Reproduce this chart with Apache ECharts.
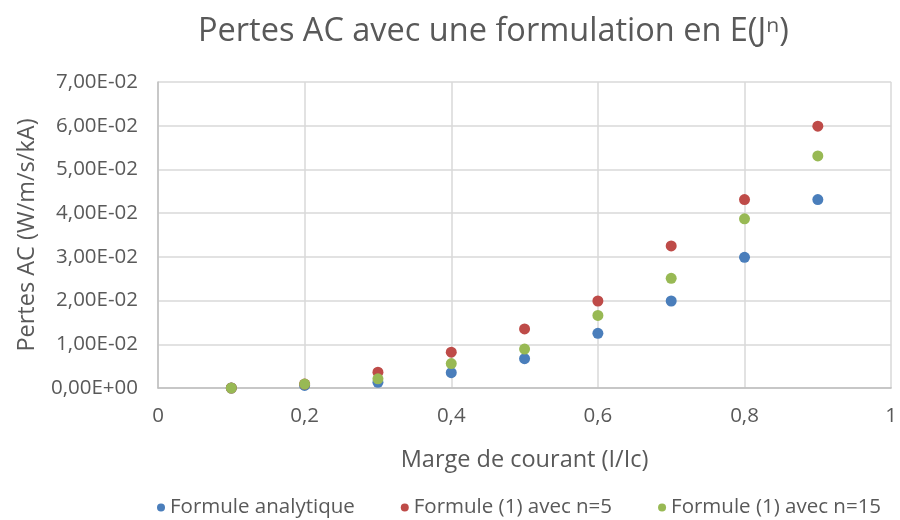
<!DOCTYPE html>
<html>
<head>
<meta charset="utf-8">
<script src="https://cdn.jsdelivr.net/npm/echarts@6/dist/echarts.min.js"></script>
<style>html,body{margin:0;padding:0;background:#fff}#c{width:900px;height:520px}</style>
</head>
<body>
<div id="c"></div>
<script>
const titleText = 'Pertes AC avec une formulation en E(J\u207F)';
const xName = 'Marge de courant (I/Ic)';
const yName = 'Pertes AC (W/m/s/kA)';
const marge = [0.1, 0.2, 0.3, 0.4, 0.5, 0.6, 0.7, 0.8, 0.9];
const seriesNames = ['Formule analytique', 'Formule (1) avec n=5', 'Formule (1) avec n=15'];
const analytique = [0.0000, 0.0006, 0.0013, 0.0035, 0.0067, 0.0125, 0.0199, 0.0299, 0.0431];
const n5 = [0.0000, 0.0009, 0.0036, 0.0082, 0.0135, 0.0199, 0.0325, 0.0431, 0.0599];
const n15 = [0.0000, 0.0009, 0.0021, 0.0056, 0.0089, 0.0166, 0.0251, 0.0387, 0.0531];
const colors = ['#4A7EBB', '#BE4B48', '#98B954'];

const font = '"Open Sans", "Noto Sans", sans-serif';
const txt = '#595959';
function yFmt(v) {
  let s = Number(v).toExponential(2);
  let [m, e] = s.split('e');
  let sign = e[0];
  let d = e.slice(1).padStart(2, '0');
  return m.replace('.', ',') + 'E' + sign + d;
}
function xFmt(v) { return String(Math.round(v * 10) / 10).replace('.', ','); }

const allData = [analytique, n5, n15];
const chart = echarts.init(document.getElementById('c'));
chart.setOption({
  animation: false,
  color: colors,
  title: {
    text: titleText, left: 193, top: 10,
    textStyle: { fontFamily: font, fontSize: 32.5, fontWeight: 'normal', color: txt }
  },
  grid: { left: 158, right: 6, top: 82, bottom: 132, containLabel: false },
  legend: {
    bottom: 0, left: 152, padding: [0, 5, 2, 5], itemGap: 46, itemWidth: 8, itemHeight: 8, icon: 'circle',
    textStyle: { fontFamily: font, fontSize: 20.5, color: txt },
    data: seriesNames
  },
  xAxis: {
    type: 'value', min: 0, max: 1, interval: 0.2,
    name: xName, nameLocation: 'middle', nameGap: 60,
    nameTextStyle: { fontFamily: font, fontSize: 23.5, color: txt },
    axisLine: { show: true, lineStyle: { color: '#BFBFBF', width: 1.5 } },
    axisTick: { show: false },
    axisLabel: { formatter: xFmt, fontFamily: font, fontSize: 20.5, color: txt, margin: 18 },
    splitLine: { show: true, lineStyle: { color: '#D9D9D9', width: 1.5 } }
  },
  yAxis: {
    type: 'value', min: 0, max: 0.07, interval: 0.01,
    name: yName, nameLocation: 'middle', nameGap: 119, nameRotate: 90,
    nameTextStyle: { fontFamily: font, fontSize: 23.5, color: txt },
    axisLine: { show: true, lineStyle: { color: '#BFBFBF', width: 1.5 } },
    axisTick: { show: false },
    axisLabel: { formatter: yFmt, fontFamily: font, fontSize: 20.5, color: txt, margin: 20 },
    splitLine: { show: true, lineStyle: { color: '#D9D9D9', width: 1.5 } }
  },
  series: seriesNames.map((n, i) => ({
    name: n, type: 'scatter', symbol: 'circle', symbolSize: 11,
    itemStyle: { opacity: 1 },
    data: marge.map((x, j) => [x, allData[i][j]])
  }))
});
</script>
</body>
</html>
